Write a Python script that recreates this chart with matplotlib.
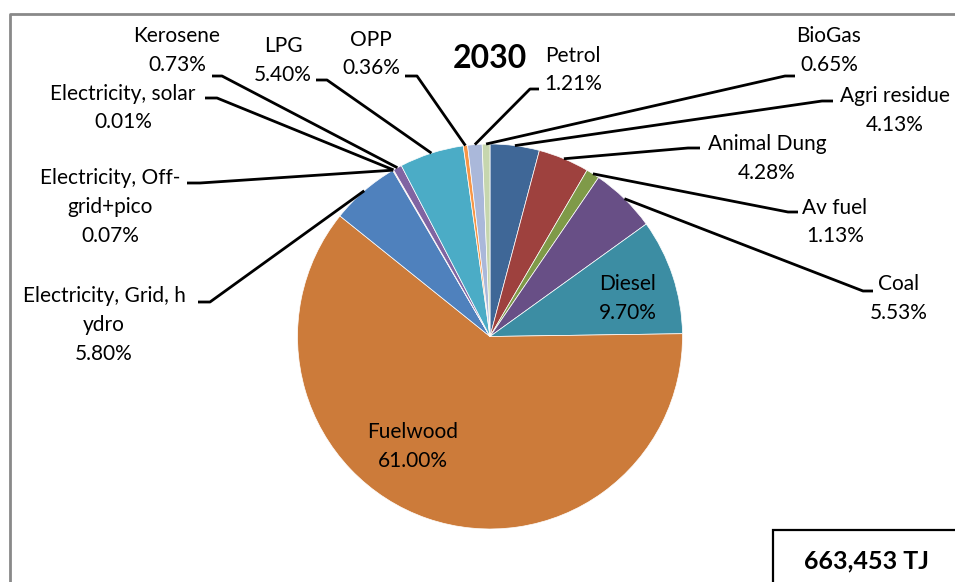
import matplotlib.pyplot as plt
import numpy as np
from matplotlib.patches import Rectangle

plt.rcParams['font.family'] = ['Lato', 'DejaVu Sans']

# energy mix 2030, clockwise from 12 o'clock
fuels = ["Agri residue", "Animal Dung", "Av fuel", "Coal", "Diesel", "Fuelwood",
         "Electricity, Grid, hydro", "Electricity, Off-grid+pico", "Electricity, solar",
         "Kerosene", "LPG", "OPP", "Petrol", "BioGas"]
shares = [4.13, 4.28, 1.13, 5.53, 9.70, 61.00, 5.80, 0.07, 0.01, 0.73, 5.40, 0.36, 1.21, 0.65]
# how the names wrap in the label boxes
shown = ["Agri residue", "Animal Dung", "Av fuel", "Coal", "Diesel", "Fuelwood",
         "Electricity, Grid, h\nydro", "Electricity, Off-\ngrid+pico", "Electricity, solar",
         "Kerosene", "LPG", "OPP", "Petrol", "BioGas"]
year = "2030"
total = "663,453 TJ"

colors = ["#3F6797", "#9E413E", "#7F9A48", "#684F86", "#3C8DA3", "#CC7B3A",
          "#4F81BD", "#C0504D", "#9BBB59", "#8064A2", "#4BACC6", "#F79646",
          "#AAB8DA", "#C6D6AE"]

W, H = 955, 582
cx, cy, r = 490, 336.5, 192.5

# label layout in pixel coords (y down): text x, first-line y, knee x, tip x, leader y
layout = {
    "Agri residue": (895, 96.5, 822, 833, 101),
    "Animal Dung": (767, 144.5, 688, 700, 148),
    "Av fuel": (835, 207.5, 788, 798, 212),
    "Coal": (899, 284.5, 863, 873, 291),
    "Diesel": (628, 284.5, None, None, None),
    "Fuelwood": (413, 432.5, None, None, None),
    "Electricity, Grid, hydro": (104, 296.5, 210, 198, 302),
    "Electricity, Off-grid+pico": (110, 178.5, 200, 187, 183),
    "Electricity, solar": (123, 93.5, 217, 205, 98),
    "Kerosene": (177, 36.5, 222, 212, 76),
    "LPG": (283, 46.5, 327, 316, 80),
    "OPP": (371, 39.5, 417, 405, 76),
    "Petrol": (573, 55.5, 530, 539, 89),
    "BioGas": (829, 36.5, 785, 795, 76),
}
step = 28.7

fig = plt.figure(figsize=(W / 100, H / 100), dpi=100)
ax = fig.add_axes([0, 0, 1, 1])

ax.pie(shares, colors=colors, startangle=90, counterclock=False,
       center=(cx, H - cy), radius=r,
       wedgeprops=dict(edgecolor="white", linewidth=0.5))

cum = np.concatenate([[0], np.cumsum(shares)[:-1]])
mid = np.radians(90 - 3.6 * (cum + np.array(shares) / 2))

for i, name in enumerate(fuels):
    tx, ty, kx, tipx, ly = layout[name]
    lines = shown[i].split("\n") + ["%.2f%%" % shares[i]]
    for j, s in enumerate(lines):
        ax.text(tx, H - (ty + j * step), s, ha="center", va="center",
                fontsize=15, color="black")
    if kx is not None:
        ex = cx + r * np.cos(mid[i])
        ey = cy - r * np.sin(mid[i])
        ax.plot([ex, kx, tipx], [H - ey, H - ly, H - ly], color="black", lw=2.0,
                solid_capstyle="butt")

ax.text(490, H - 58, year, ha="center", va="center", fontsize=23, fontweight="bold")

# chart area border
ax.plot([10, 10, W + 5], [-5, H - 14, H - 14], color="#898989", lw=2)

# total box
ax.add_patch(Rectangle((773, -10), 200, H - 530 + 10, fill=False, edgecolor="black", lw=1.6))
ax.text(866, H - 561, total, ha="center", va="center", fontsize=18, fontweight="bold")

ax.set_xlim(0, W)
ax.set_ylim(0, H)
ax.set_aspect("auto")
ax.axis("off")

fig.savefig("out.png", dpi=100, facecolor="white")
